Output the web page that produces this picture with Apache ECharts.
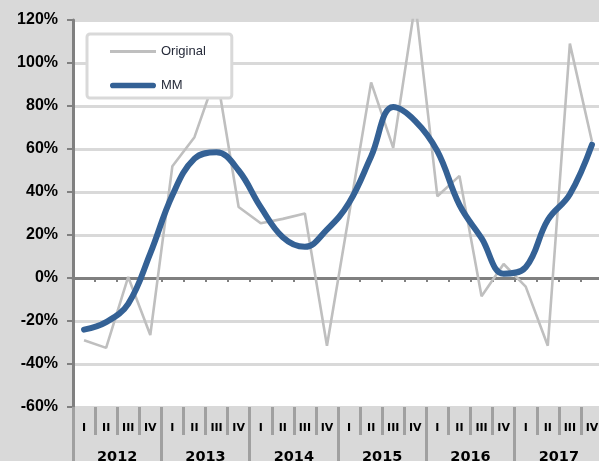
<!DOCTYPE html>
<html>
<head>
<meta charset="utf-8">
<script src="https://cdn.jsdelivr.net/npm/echarts@6/dist/echarts.min.js"></script>
<style>
  html, body { margin: 0; padding: 0; background: #d9d9d9; }
  #chart { width: 599px; height: 461px; }
</style>
</head>
<body>
<div id="chart"></div>
<script>
// Quarterly series, 2012 I – 2017 IV (percent)
const years = ['2012', '2013', '2014', '2015', '2016', '2017'];
const quarterLabels = ['I', 'II', 'III', 'IV'];
const original = [-29, -32.5, 0.5, -26.5, 52, 65.5, 95, 33, 25.5, 27.5, 30, -31.5,
                  29.5, 91, 60.5, 128, 38, 47.5, -8.5, 6.5, -4, -31.5, 109, 63.5];
const mm = [-24, -20.5, -12, 11.5, 38.5, 55.5, 58.5, 50, 33, 19, 14.5, 22.5,
            35, 56.5, 79.5, 73, 59, 34, 18.5, 2, 5, 27, 39, 62];
const yTicks = { min: -60, max: 120, step: 20 };

const categories = [];
years.forEach(y => quarterLabels.forEach(q => categories.push(y + ' ' + q)));

const sepColor = '#a0a0a0';
const axisGray = '#808080';
const grayLine = '#bfbfbf';
const blueLine = '#346195';

// plain line swatches for the legend (no marker)
const thinSwatch = 'path://M0,0H45V3H0Z';
const thickSwatch = 'path://M3,0H46A3,3,0,0,1,46,6H3A3,3,0,0,1,3,0Z';

const chart = echarts.init(document.getElementById('chart'), null, { renderer: 'canvas' });
chart.setOption({
  backgroundColor: '#d9d9d9',
  animation: false,
  grid: {
    left: 73, top: 20, width: 530, height: 387,
    outerBoundsMode: 'none', containLabel: false,
    show: true, backgroundColor: '#ffffff', borderWidth: 0
  },
  legend: {
    data: [
      { name: 'Original', icon: thinSwatch },
      { name: 'MM', icon: thickSwatch }
    ],
    orient: 'vertical',
    left: 87, top: 34,
    padding: [11, 26, 6, 23],
    itemGap: 21,
    itemWidth: 46, itemHeight: 14,
    symbolKeepAspect: true,
    backgroundColor: '#ffffff',
    borderColor: '#d9d9d9', borderWidth: 3, borderRadius: 3,
    textStyle: { fontFamily: 'Liberation Sans', fontSize: 13, color: '#262b3a' }
  },
  xAxis: [
    {
      // quarter labels with short separators
      type: 'category', data: categories, position: 'bottom',
      axisLine: { show: false, onZero: false },
      axisTick: { show: true, interval: 0, length: 28, lineStyle: { color: sepColor, width: 3 } },
      axisLabel: {
        interval: 0, margin: 16,
        fontFamily: 'DejaVu Sans', fontWeight: 'bold', fontSize: 11, color: '#000',
        formatter: v => v.split(' ')[1]
      },
      splitLine: { show: false }
    },
    {
      // years with full-height separators
      type: 'category', data: years, position: 'bottom',
      axisLine: { show: false, onZero: false },
      axisTick: { show: true, interval: 0, length: 54, lineStyle: { color: sepColor, width: 3 } },
      axisLabel: {
        interval: 0, margin: 43,
        fontFamily: 'DejaVu Sans', fontWeight: 'bold', fontSize: 14.5, color: '#000'
      },
      splitLine: { show: false }
    },
    {
      // zero line with small ticks
      type: 'category', data: categories, position: 'bottom',
      axisLine: { show: true, onZero: true, lineStyle: { color: axisGray, width: 3 } },
      axisTick: { show: true, interval: 0, length: 4, lineStyle: { color: axisGray, width: 2 } },
      axisLabel: { show: false },
      splitLine: { show: false }
    }
  ],
  yAxis: {
    type: 'value', min: yTicks.min, max: yTicks.max, interval: yTicks.step,
    axisLine: { show: true, lineStyle: { color: axisGray, width: 3 } },
    axisTick: { show: true, length: 6, lineStyle: { color: axisGray, width: 2 } },
    axisLabel: {
      margin: 15, formatter: '{value}%',
      fontFamily: 'Liberation Sans', fontWeight: 'bold', fontSize: 16, color: '#000'
    },
    splitLine: { show: true, lineStyle: { color: '#d9d9d9', width: 3 } }
  },
  series: [
    {
      name: 'Original', type: 'line', data: original, xAxisIndex: 0,
      symbol: 'none', clip: true,
      lineStyle: { color: grayLine, width: 2.6 },
      itemStyle: { color: grayLine }
    },
    {
      name: 'MM', type: 'line', data: mm, xAxisIndex: 0,
      symbol: 'none', smooth: 0.4, clip: true,
      lineStyle: { color: blueLine, width: 6, cap: 'round' },
      itemStyle: { color: blueLine }
    }
  ]
});
</script>
</body>
</html>
